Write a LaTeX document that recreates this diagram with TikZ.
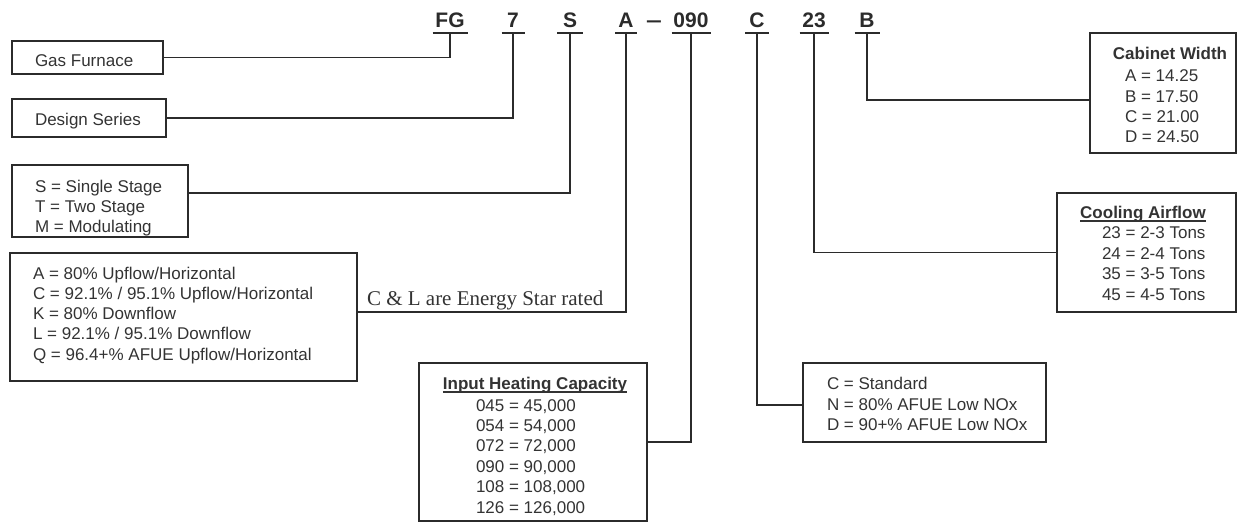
\documentclass[tikz,border=0pt]{standalone}
\usepackage{fontspec}
\setmainfont{Liberation Sans}
\newfontfamily\timesf{Liberation Serif}
\definecolor{ink}{HTML}{2B2B2B}
\definecolor{txt}{HTML}{333333}
\begin{document}
\begin{tikzpicture}[x=1pt,y=1pt,
  box/.style={draw=ink, line width=1.8pt, anchor=north west, inner sep=0, outer sep=0},
  conn/.style={draw=ink, line width=1.8pt},
  lbl/.style={anchor=base west, inner sep=0, outer sep=0, text=txt, font=\fontsize{17}{20}\selectfont},
  hd/.style={anchor=base, inner sep=0, outer sep=0, text=txt, font=\bfseries\fontsize{17}{20}\selectfont},
  code/.style={anchor=base, inner sep=0, outer sep=0, text=ink, font=\bfseries\fontsize{21}{24}\selectfont},
  ul/.style={draw=txt, line width=1.2pt}]
\useasboundingbox (0,0) rectangle (1239,-523);

% boxes
\node[box, minimum width=151, minimum height=33] (gas) at (12,-41) {};
\node[box, minimum width=154, minimum height=38] (des) at (12,-99) {};
\node[box, minimum width=176, minimum height=72] (sb) at (12,-165) {};
\node[box, minimum width=347, minimum height=128] (ab) at (10,-253) {};
\node[box, minimum width=228, minimum height=158] (inp) at (419,-363) {};
\node[box, minimum width=243, minimum height=79] (cb) at (803,-363) {};
\node[box, minimum width=179, minimum height=119] (cool) at (1057,-193) {};
\node[box, minimum width=146, minimum height=120] (cab) at (1090,-33) {};

% model code letters with underlines
\foreach \n/\t/\x/\w in {FG/FG/450/17.5, 7/7/513/11.5, S/S/570/13, A/A/626/11, 090/090/691/19.5, C/C/757/12, 23/23/814/14.5, B/B/867/12.5}{
  \node[code] (c\n) at (\x,-27) {\t};
  \coordinate (u\n) at (\x,-33);
  \draw[conn] ([xshift=-\w pt]u\n) -- ([xshift=\w pt]u\n);
}
\node[code] (dash) at (654,-27) {\scalebox{1.35}[1]{–}};

% connectors
\draw[conn] (gas.east) -| (uFG);
\draw[conn] (des.east) -| (u7);
\draw[conn] ([yshift=8pt]sb.east) -| (uS);
\draw[conn] ([yshift=5pt]ab.east) -| (uA);
\draw[conn] (inp.east) -| (u090);
\draw[conn] ([yshift=-2.5pt]cb.west) -| (uC);
\draw[conn] (cool.west) -| (u23);
\draw[conn] ([yshift=-7pt]cab.west) -| (uB);

% texts
\node[lbl] (tgas) at (35,-66) {Gas Furnace};
\node[lbl] (tdes) at (35,-125) {Design Series};
\node[lbl] (ts1) at (35,-192) {S = Single Stage};
\node[lbl] (ts2) at (35,-212) {T = Two Stage};
\node[lbl] (ts3) at (35,-232) {M = Modulating};

\node[lbl] (ta1) at (33,-279) {A = 80\% Upflow/Horizontal};
\node[lbl] (ta2) at (33,-299) {C = 92.1\% / 95.1\% Upflow/Horizontal};
\node[lbl] (ta3) at (33,-319) {K = 80\% Downflow};
\node[lbl] (ta4) at (33,-339) {L = 92.1\% / 95.1\% Downflow};
\node[lbl] (ta5) at (33,-360) {Q = 96.4+\% AFUE Upflow/Horizontal};

\node[anchor=base west, inner sep=0, outer sep=0, text=txt, font=\timesf\fontsize{21}{24}\selectfont] (estar) at (367,-305) {C \& L are Energy Star rated};

\node[hd] (hinp) at (535,-389) {Input Heating Capacity};
\draw[ul] ([yshift=-3pt]hinp.base west) -- ([yshift=-3pt]hinp.base east);
\node[lbl] (ti1) at (476,-411) {045 = 45,000};
\node[lbl] (ti2) at (476,-431) {054 = 54,000};
\node[lbl] (ti3) at (476,-451) {072 = 72,000};
\node[lbl] (ti4) at (476,-472) {090 = 90,000};
\node[lbl] (ti5) at (476,-492) {108 = 108,000};
\node[lbl] (ti6) at (476,-513) {126 = 126,000};

\node[lbl] (tc1) at (827,-389) {C = Standard};
\node[lbl] (tc2) at (827,-410) {N = 80\% AFUE Low NOx};
\node[lbl] (tc3) at (827,-430) {D = 90+\% AFUE Low NOx};

\node[hd] (hcab) at (1170,-59) {Cabinet Width};
\node[lbl] (tw1) at (1125,-81) {A = 14.25};
\node[lbl] (tw2) at (1125,-102) {B = 17.50};
\node[lbl] (tw3) at (1125,-122) {C = 21.00};
\node[lbl] (tw4) at (1125,-142) {D = 24.50};

\node[hd] (hcool) at (1143,-218) {Cooling Airflow};
\draw[ul] ([yshift=-3pt]hcool.base west) -- ([yshift=-3pt]hcool.base east);
\node[lbl] (tf1) at (1102,-238) {23 = 2-3 Tons};
\node[lbl] (tf2) at (1102,-259) {24 = 2-4 Tons};
\node[lbl] (tf3) at (1102,-279) {35 = 3-5 Tons};
\node[lbl] (tf4) at (1102,-300) {45 = 4-5 Tons};
\end{tikzpicture}
\end{document}
